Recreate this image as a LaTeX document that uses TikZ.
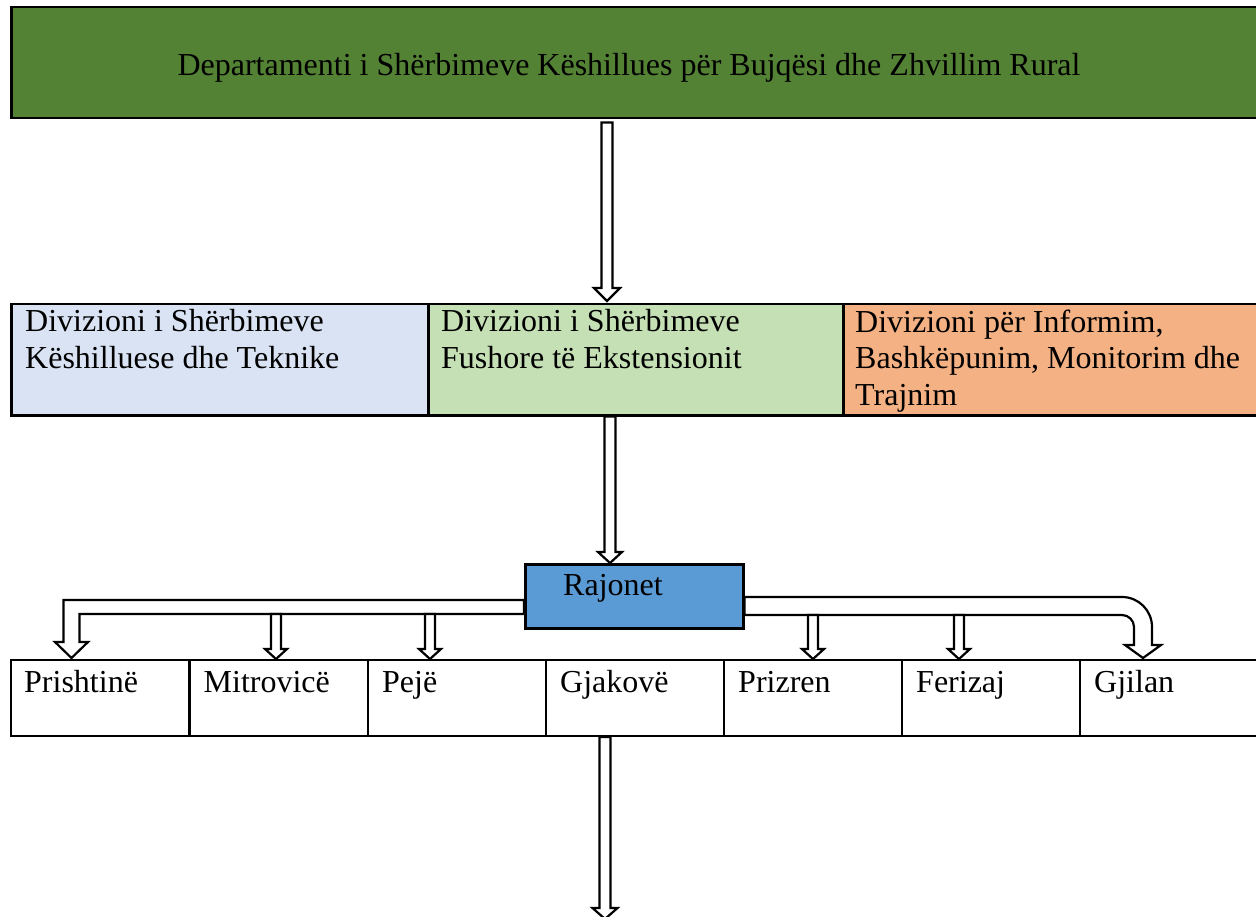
\documentclass[tikz,border=0pt]{standalone}
\usepackage{fontspec}
\setmainfont{Liberation Serif}
\usetikzlibrary{calc}
\definecolor{deptgreen}{HTML}{548235}
\definecolor{divblue}{HTML}{DAE3F3}
\definecolor{divgreen}{HTML}{C5E0B4}
\definecolor{divorange}{HTML}{F4B183}
\definecolor{rajblue}{HTML}{5B9BD5}
% #1 x-coordinate name, #2 from, #3 to, #4 start gap, #5 end gap, #6 shaft half, #7 head half, #8 head length
\newcommand\downblock[8]{%
  \draw[blockarrow] let \p1=(#1 |- #2), \p2=(#1 |- #3) in
    (\x1-#6pt,\y1-#4pt) -- (\x1-#6pt,\y2+#5pt+#8pt) -- (\x1-#7pt,\y2+#5pt+#8pt) --
    (\x1,\y2+#5pt) -- (\x1+#7pt,\y2+#5pt+#8pt) -- (\x1+#6pt,\y2+#5pt+#8pt) --
    (\x1+#6pt,\y1-#4pt) -- cycle;}
\begin{document}
\begin{tikzpicture}[x=1pt,y=-1pt,
  boxstyle/.style={draw=black, line width=2.5pt, inner sep=0pt, anchor=north west},
  cellstyle/.style={draw=black, line width=2pt, inner sep=0pt, anchor=north west,
    minimum width=178.2pt, minimum height=76pt},
  lbl/.style={font=\fontsize{32}{36.8}\selectfont, inner sep=0pt, anchor=base west, align=left},
  blockarrow/.style={draw=black, fill=white, line width=2.2pt, line join=miter},
]
\useasboundingbox (0,0) rectangle (1256,917);
\clip (0,0) rectangle (1256,917);
\fill[white] (0,0) rectangle (1256,917);

% top department
\node[boxstyle, fill=deptgreen, minimum width=1260pt, minimum height=111pt] (dept) at (10,6) {};
\node[lbl, anchor=base] (depttext) at (629,76) {Departamenti i Shërbimeve Këshillues për Bujqësi dhe Zhvillim Rural};

% divisions
\node[boxstyle, fill=divblue, minimum width=417pt, minimum height=111pt] (div1) at (10,303) {};
\node[boxstyle, fill=divgreen, minimum width=415pt, minimum height=111pt] (div2) at (427,303) {};
\node[boxstyle, fill=divorange, minimum width=430pt, minimum height=111pt] (div3) at (842,303) {};
% anchor base = baseline of the last line
\node[lbl] (div1text) at ($(div1.north west)+(15,29+36.8)$) {Divizioni i Shërbimeve\\Këshilluese dhe Teknike};
\node[lbl] (div2text) at ($(div2.north west)+(14,29+36.8)$) {Divizioni i Shërbimeve\\Fushore të Ekstensionit};
\node[lbl] (div3text) at ($(div3.north west)+(13,29+73.6)$) {Divizioni për Informim,\\Bashkëpunim, Monitorim dhe\\Trajnim};

% Rajonet
\node[boxstyle, fill=rajblue, minimum width=218pt, minimum height=64pt] (raj) at (524,563) {};
\node[lbl] (rajtext) at (563,595) {Rajonet};

% cities
\node[cellstyle] (c1) at (10,659) {};
\node[cellstyle] (c2) at (188.5,659) {};
\node[cellstyle] (c3) at (367,659) {};
\node[cellstyle] (c4) at (545,659) {};
\node[cellstyle] (c5) at (723,659) {};
\node[cellstyle] (c6) at (901,659) {};
\node[cellstyle, minimum width=190pt] (c7) at (1079,659) {};
\node[lbl] (t1) at ($(c1.north west)+(14,33)$) {Prishtinë};
\node[lbl] (t2) at ($(c2.north west)+(15,33)$) {Mitrovicë};
\node[lbl] (t3) at ($(c3.north west)+(15,33)$) {Pejë};
\node[lbl] (t4) at ($(c4.north west)+(15,33)$) {Gjakovë};
\node[lbl] (t5) at ($(c5.north west)+(15,33)$) {Prizren};
\node[lbl] (t6) at ($(c6.north west)+(15,33)$) {Ferizaj};
\node[lbl] (t7) at ($(c7.north west)+(15,33)$) {Gjilan};

% arrow columns
\coordinate (x607) at (607,0);
\coordinate (x610) at (610,0);
\coordinate (x605) at (605,0);
\coordinate (x276) at (276,0);
\coordinate (x430) at (430,0);
\coordinate (x813) at (813,0);
\coordinate (x959) at (959,0);
\coordinate (bottomend) at (605,919);
\coordinate (lbot) at ($(raj.north west)+(0,51)$);
\coordinate (rbot) at ($(raj.north east)+(0,52)$);

% vertical block arrows
\downblock{x607}{dept.south}{div2.north}{3}{2}{5.5}{13}{13}
\downblock{x610}{div2.south}{raj.north}{0}{0}{5.5}{12}{11}
\downblock{x605}{c4.south}{bottomend}{0}{0}{5.5}{12.5}{11}

% left bent arrow
\draw[blockarrow] let \p1=(raj.north west) in
  (\x1,\y1-37pt) -- (63.5,600) -- (63.5,642) -- (55,642) -- (71.5,658) -- (88,642)
  -- (79.5,642) -- (79.5,614) -- (\x1,\y1-51pt) -- cycle;
% right bent arrow
\draw[blockarrow] let \p1=(raj.north east) in
  (\x1,\y1-34pt) -- (1122,597) .. controls (1138.6,597) and (1152,610.4) .. (1152,627)
  -- (1152,645) -- (1161,645) -- (1143,658) -- (1125,645) -- (1134,645) -- (1134,627)
  .. controls (1134,620.4) and (1128.6,615) .. (1122,615) -- (\x1,\y1-52pt) -- cycle;

% small branch arrows
\downblock{x276}{lbot}{c2.north}{0}{0}{5}{11}{10}
\downblock{x430}{lbot}{c3.north}{0}{0}{5}{11}{10}
\downblock{x813}{rbot}{c5.north}{0}{0}{5}{11}{10}
\downblock{x959}{rbot}{c6.north}{0}{0}{5}{11}{10}
\end{tikzpicture}
\end{document}
